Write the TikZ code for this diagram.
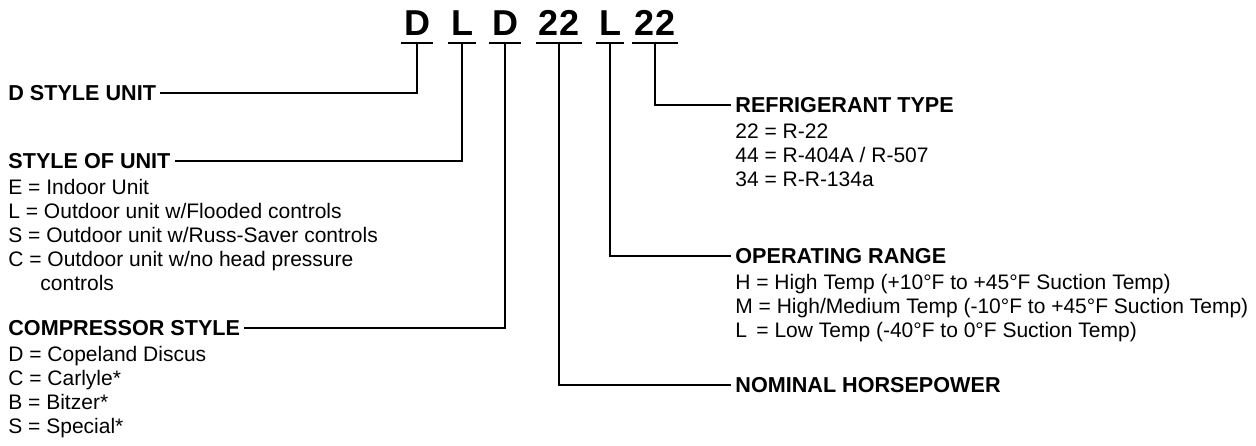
\documentclass[tikz,border=0pt]{standalone}
\usepackage{fontspec}
\setmainfont{Liberation Sans}
\begin{document}
\begin{tikzpicture} [x = 0.5pt, y = -0.5pt,
	leader/.style = {line width = 1pt},
	codeletter/.style = {font = \fontsize{18}{20}\selectfont\bfseries, inner xsep = 1.5pt, inner ysep = 4pt, anchor = base},
	head/.style = {font = \fontsize{10.8}{12}\selectfont\bfseries, inner xsep = 2pt, inner ysep = 0pt, text depth = 0pt},
	itemlist/.style = {font = \fontsize{10.5}{12}\selectfont, align = left, inner sep = 0pt, anchor = north west}]
	\useasboundingbox (0,0) rectangle (1256,445);
	% model number
	\node [codeletter] (cUnit) at (417,35) {D};
	\node [codeletter] (cStyle) at (462,35) {L};
	\node [codeletter] (cComp) at (505,35) {D};
	\node [codeletter] (cHp) at (559,35) {22};
	\node [codeletter] (cRange) at (610,35) {L};
	\node [codeletter] (cRefr) at (655,35) {22};
	\foreach \c in {cUnit, cStyle, cComp, cHp, cRange, cRefr}
		\draw [leader] (\c.south west) -- (\c.south east);
	% left side
	\node [head, anchor = west] (hUnit) at (4,93) {D STYLE UNIT};
	\node [head, anchor = west] (hStyle) at (4,161) {STYLE OF UNIT};
	\node [itemlist] (lStyle) at ([xshift = 2pt, yshift = -5pt] hStyle.south west) {E = Indoor Unit\\ L = Outdoor unit w/Flooded controls\\ S = Outdoor unit w/Russ-Saver controls\\ C = Outdoor unit w/no head pressure\\ \hspace*{16pt}controls};
	\node [head, anchor = west] (hComp) at (4,328) {COMPRESSOR STYLE};
	\node [itemlist] (lComp) at ([xshift = 2pt, yshift = -5pt] hComp.south west) {D = Copeland Discus\\ C = Carlyle*\\ B = Bitzer*\\ S = Special*};
	% right side
	\node [head, anchor = west] (hRefr) at (731,105) {REFRIGERANT TYPE};
	\node [itemlist] (lRefr) at ([xshift = 2pt, yshift = -5pt] hRefr.south west) {22 = R-22\\ 44 = R-404A / R-507\\ 34 = R-R-134a};
	\node [head, anchor = west] (hRange) at (731,256) {OPERATING RANGE};
	\node [itemlist] (lRange) at ([xshift = 2pt, yshift = -5pt] hRange.south west) {H = High Temp (+10°F to +45°F Suction Temp)\\ M = High/Medium Temp (-10°F to +45°F Suction Temp)\\ L \,= Low Temp (-40°F to 0°F Suction Temp)};
	\node [head, anchor = west] (hHp) at (731,385) {NOMINAL HORSEPOWER};
	% leaders
	\draw [leader] (cUnit.south) |- (hUnit.east);
	\draw [leader] (cStyle.south) |- (hStyle.east);
	\draw [leader] (cComp.south) |- (hComp.east);
	\draw [leader] (cHp.south) |- (hHp.west);
	\draw [leader] (cRange.south) |- (hRange.west);
	\draw [leader] (cRefr.south) |- (hRefr.west);
\end{tikzpicture}
\end{document}
